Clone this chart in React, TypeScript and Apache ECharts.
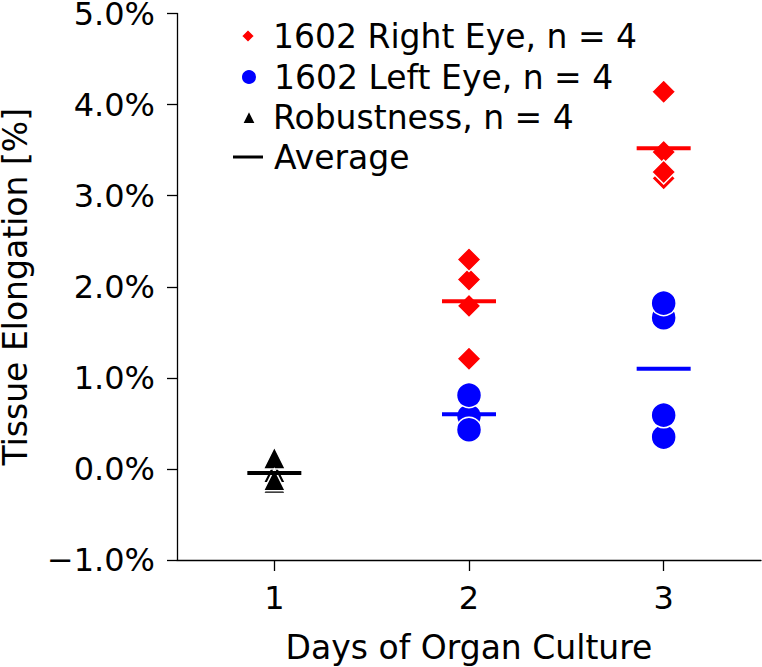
import React, { useEffect, useRef } from 'react';
import * as echarts from 'echarts';

const DAYS = ['1', '2', '3'];
const Y_MIN = -1;
const Y_MAX = 5;
const Y_STEP = 1;

const RIGHT_EYE_DAYS = ['2', '2', '2', '2', '3', '3', '3', '3'];
const RIGHT_EYE = [1.21, 1.79, 2.08, 2.3, 3.48, 3.19, 3.26, 4.14];

const LEFT_EYE_DAYS = ['2', '2', '2', '2', '3', '3', '3', '3'];
const LEFT_EYE = [0.6, 0.58, 0.81, 0.43, 1.66, 1.82, 0.35, 0.59];

const ROBUST_DAYS = ['1', '1', '1', '1'];
const ROBUST = [-0.03, 0.12, -0.15, -0.12];

const AVG_DAYS = ['1', '2', '2', '3', '3'];
const AVG_VALUES = [-0.045, 1.84, 0.6, 3.52, 1.1];
const AVG_GROUP = ['robust', 'right', 'left', 'right', 'left'];

const NAMES = {
  right: '1602 Right Eye, n = 4',
  left: '1602 Left Eye, n = 4',
  robust: 'Robustness, n = 4',
  avg: 'Average',
};

const COLORS: Record<string, string> = { right: '#ff0000', left: '#0000ff', robust: '#000000' };

const FONT = 'DejaVu Sans';

function legendText(padLeft: number) {
  return {
    fontSize: 33,
    fontFamily: FONT,
    color: '#000',
    lineHeight: 40,
    rich: { a: { fontSize: 33, fontFamily: FONT, color: '#000', lineHeight: 40, padding: [0, 0, 0, padLeft] } },
  };
}

export default function App() {
  const ref = useRef<HTMLDivElement>(null);
  useEffect(() => {
    if (!ref.current) return;
    const chart = echarts.init(ref.current, undefined, { renderer: 'svg' });
    const border = { borderColor: '#ffffff', borderWidth: 1.5, opacity: 1 };
    const legendBase = {
      orient: 'vertical' as const,
      padding: 0,
      itemWidth: 30,
      selectedMode: false,
      symbolKeepAspect: true,
      formatter: (n: string) => '{a|' + n + '}',
    };
    chart.setOption({
      animation: false,
      textStyle: { fontFamily: FONT },
      grid: { left: 177, right: 1, top: 13.5, bottom: 107, containLabel: false, outerBoundsMode: 'none' },
      legend: [
        {
          ...legendBase,
          left: 240,
          top: 16,
          itemHeight: 14,
          textStyle: legendText(5),
          data: [{ name: NAMES.right, icon: 'path://M0,-1L1,0L0,1L-1,0Z' }],
        },
        {
          ...legendBase,
          left: 240,
          top: 57,
          itemHeight: 16,
          textStyle: legendText(5),
          data: [{ name: NAMES.left, icon: 'circle' }],
        },
        {
          ...legendBase,
          left: 241,
          top: 97,
          itemHeight: 14,
          textStyle: legendText(4),
          data: [{ name: NAMES.robust, icon: 'path://M0,-1L1,1L-1,1Z' }],
        },
        {
          ...legendBase,
          left: 233,
          top: 137,
          itemHeight: 3,
          textStyle: legendText(6),
          data: [{ name: NAMES.avg, icon: 'rect' }],
        },
      ],
      xAxis: {
        type: 'category',
        data: DAYS,
        boundaryGap: true,
        name: 'Days of Organ Culture',
        nameLocation: 'middle',
        nameGap: 71,
        nameTextStyle: { fontSize: 33, fontFamily: FONT, color: '#000' },
        axisLine: { show: true, onZero: false, lineStyle: { color: '#000', width: 1.3 } },
        axisTick: { show: true, alignWithLabel: true, length: 11, lineStyle: { color: '#000', width: 1.3 } },
        axisLabel: { fontSize: 32, fontFamily: FONT, color: '#000', margin: 22 },
        splitLine: { show: false },
      },
      yAxis: {
        type: 'value',
        min: Y_MIN,
        max: Y_MAX,
        interval: Y_STEP,
        name: 'Tissue Elongation [%]',
        nameLocation: 'middle',
        nameGap: 145,
        nameTextStyle: { fontSize: 33, fontFamily: FONT, color: '#000' },
        axisLine: { show: true, lineStyle: { color: '#000', width: 1.3 } },
        axisTick: { show: true, length: 10, lineStyle: { color: '#000', width: 1.3 } },
        axisLabel: {
          fontSize: 32,
          fontFamily: FONT,
          color: '#000',
          margin: 22,
          formatter: (v: number) => (v < 0 ? '\u2212' : '') + Math.abs(v).toFixed(1) + '%',
        },
        splitLine: { show: false },
      },
      series: [
        {
          name: NAMES.right,
          type: 'scatter',
          symbol: 'diamond',
          symbolSize: 24,
          itemStyle: { color: COLORS.right, ...border },
          data: RIGHT_EYE.map((v, i) => [RIGHT_EYE_DAYS[i], v]),
          silent: true,
        },
        {
          name: NAMES.left,
          type: 'scatter',
          symbol: 'circle',
          symbolSize: 25,
          itemStyle: { color: COLORS.left, ...border },
          data: LEFT_EYE.map((v, i) => [LEFT_EYE_DAYS[i], v]),
          silent: true,
        },
        {
          name: NAMES.robust,
          type: 'scatter',
          symbol: 'triangle',
          symbolSize: 22,
          itemStyle: { color: COLORS.robust, ...border },
          data: ROBUST.map((v, i) => [ROBUST_DAYS[i], v]),
          silent: true,
        },
        {
          name: NAMES.avg,
          type: 'scatter',
          symbol: 'rect',
          symbolSize: [54, 4],
          itemStyle: { color: '#000000', opacity: 1 },
          data: AVG_VALUES.map((v, i) => ({
            value: [AVG_DAYS[i], v],
            itemStyle: { color: COLORS[AVG_GROUP[i]], opacity: 1 },
          })),
          silent: true,
          z: 5,
        },
      ],
    });
    return () => chart.dispose();
  }, []);
  return <div ref={ref} style={{ position: 'absolute', left: 0, top: 0, width: 762, height: 667 }} />;
}
